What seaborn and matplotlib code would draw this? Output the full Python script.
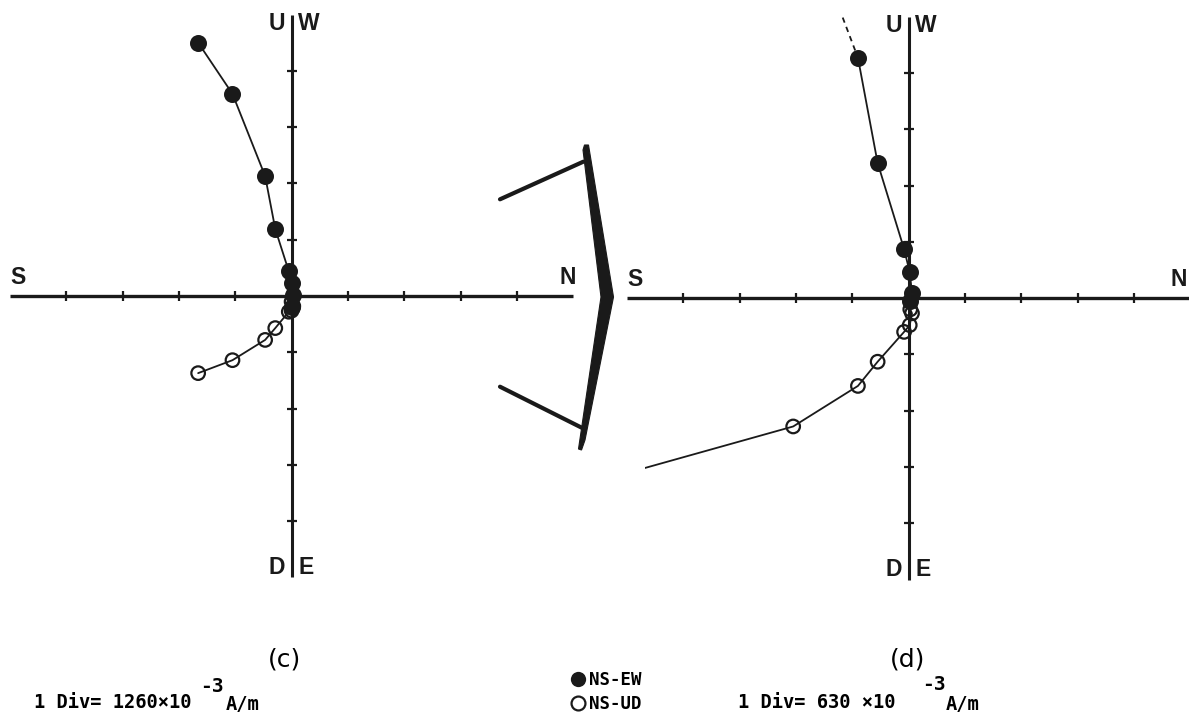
import matplotlib
matplotlib.use("Agg")
import matplotlib.pyplot as plt
from matplotlib.lines import Line2D
import pandas as pd
import seaborn as sns

# Zijderveld diagrams, values in divisions of each plot
# panel (c): 1 div = 1260e-3 A/m
ns_c = [-1.66, -1.05, -0.47, -0.29, -0.05, 0.00, 0.03, 0.00]
ew_c = [4.50, 3.59, 2.13, 1.19, 0.44, 0.23, 0.02, -0.19]
ud_c = [-1.37, -1.14, -0.78, -0.57, -0.28, -0.26, -0.18, -0.10]

# panel (d): 1 div = 630e-3 A/m, first steps run off the plot
ns_d = [-5.80, -2.05, -0.90, -0.55, -0.08, 0.02, 0.06, 0.03]
ew_d = [9.50, 7.30, 4.27, 2.40, 0.87, 0.46, 0.09, -0.06]
ud_d = [-3.33, -2.28, -1.56, -1.13, -0.60, -0.48, -0.27, -0.20]

ticks = [-4, -3, -2, -1, 1, 2, 3, 4]
panel_names = ["(c)", "(d)"]
div_text = ["1 Div= 1260\u00d710", "1 Div= 630 \u00d710"]

W, H = 1189, 715
PX = 56.3  # pixels per division

sns.set_theme(style="white")
plt.rcParams["font.family"] = ["Liberation Sans", "DejaVu Sans"]
plt.rcParams["text.color"] = "black"

fig = plt.figure(figsize=(W / 100, H / 100), dpi=100)


def panel(origin, xlim, ylim):
    ox, oy = origin
    left = ox + xlim[0] * PX
    right = ox + xlim[1] * PX
    top = oy - ylim[1] * PX
    bottom = oy - ylim[0] * PX
    ax = fig.add_axes([left / W, 1 - bottom / H, (right - left) / W, (bottom - top) / H])
    ax.set_xlim(xlim)
    ax.set_ylim(ylim)
    ax.axis("off")
    return ax


def frame(ax, n_x=5.05):
    # the two crossing axes with cross ticks
    ax.plot([-5, 5], [0, 0], color="k", lw=2.4, clip_on=False, zorder=1, solid_capstyle="butt")
    ax.plot([0, 0], [-5, 5], color="k", lw=2.2, clip_on=False, zorder=1, solid_capstyle="butt")
    ax.plot(ticks, [0] * len(ticks), ls="none", marker="|", ms=7, mew=1.6, color="k", clip_on=False)
    ax.plot([0] * len(ticks), ticks, ls="none", marker="_", ms=7, mew=1.6, color="k", clip_on=False)
    lab = dict(fontsize=16.5, fontweight="bold", color="k", clip_on=False)
    ax.text(-5.0, 0.13, "S", ha="left", va="bottom", **lab)
    ax.text(n_x, 0.13, "N", ha="right", va="bottom", **lab)
    ax.text(-0.11, 4.84, "U", ha="right", va="center", **lab)
    ax.text(0.12, 4.84, "W", ha="left", va="center", **lab)
    ax.text(-0.11, -4.82, "D", ha="right", va="center", **lab)
    ax.text(0.12, -4.82, "E", ha="left", va="center", **lab)


def path(ax, x, y, ls="-"):
    df = pd.DataFrame({"x": x, "y": y})
    sns.lineplot(data=df, x="x", y="y", sort=False, estimator=None, color="k",
                 lw=1.3, ls=ls, ax=ax, zorder=2)


def points(ax, x, y, filled):
    df = pd.DataFrame({"x": x, "y": y})
    if filled:
        sns.scatterplot(data=df, x="x", y="y", s=150, color="k", linewidth=0, ax=ax, zorder=3)
    else:
        sns.scatterplot(data=df, x="x", y="y", s=95, facecolor="none", edgecolor="k",
                        linewidth=1.6, ax=ax, zorder=4)


# panel (c)
ax_c = panel((291.6, 296.0), (-5.1, 5.1), (-5.1, 5.1))
frame(ax_c)
path(ax_c, ns_c, ew_c)
path(ax_c, ns_c, ud_c)
points(ax_c, ns_c, ew_c, True)
points(ax_c, ns_c, ud_c, False)

# panel (d)
ax_d = panel((908.6, 298.1), (-4.68, 5.1), (-5.1, 5.03))
frame(ax_d, n_x=4.95)
path(ax_d, ns_d[:3], ew_d[:3], ls=(0, (3, 2.5)))
path(ax_d, ns_d[2:], ew_d[2:])
path(ax_d, ns_d, ud_d)
points(ax_d, ns_d, ew_d, True)
points(ax_d, ns_d, ud_d, False)

for ax in (ax_c, ax_d):
    ax.set_xlabel("")
    ax.set_ylabel("")

# overlay in pixel units for the arrow and captions
ov = fig.add_axes([0, 0, 1, 1])
ov.set_xlim(0, W)
ov.set_ylim(H, 0)
ov.axis("off")
ov.plot([500, 583.3], [199.3, 161.7], color="k", lw=3.0, solid_capstyle="round")
ov.plot([500, 581.7], [386.7, 427.7], color="k", lw=3.0, solid_capstyle="round")
ov.fill([584.5, 588.5, 613.5, 585.0, 581.5, 578.5, 601.0, 583.0],
        [145.0, 145.0, 297.0, 440.0, 450.0, 449.0, 297.0, 150.0], color="k", lw=0.8, ec="k")

mono = ["DejaVu Sans Mono"]
for name, cx in zip(panel_names, [284, 908]):
    ov.text(cx, 659, name, ha="center", va="center", fontsize=18, family=["DejaVu Sans"])

cap = dict(ha="left", va="center", fontsize=13.5, fontweight="bold", family=mono)
ov.text(34, 703, div_text[0], **cap)
ov.text(200, 686, "-3", ha="left", va="center", fontsize=14, fontweight="bold", family=mono)
ov.text(226, 704, "A/m", **cap)
ov.text(738, 703, div_text[1], **cap)
ov.text(922, 685, "-3", ha="left", va="center", fontsize=14, fontweight="bold", family=mono)
ov.text(946, 704, "A/m", **cap)

handles = [Line2D([], [], ls="none", marker="o", ms=11, color="k", mew=0),
           Line2D([], [], ls="none", marker="o", ms=10, mfc="none", mec="k", mew=1.6)]
fig.legend(handles, ["NS-EW", "NS-UD"], loc="center left", bbox_to_anchor=(556 / W, 1 - 692 / H),
           frameon=False, handlelength=0.7, handletextpad=0.3, labelspacing=0.35,
           prop={"family": mono, "size": 12.5, "weight": "bold"})

fig.savefig("out.png", dpi=100)
